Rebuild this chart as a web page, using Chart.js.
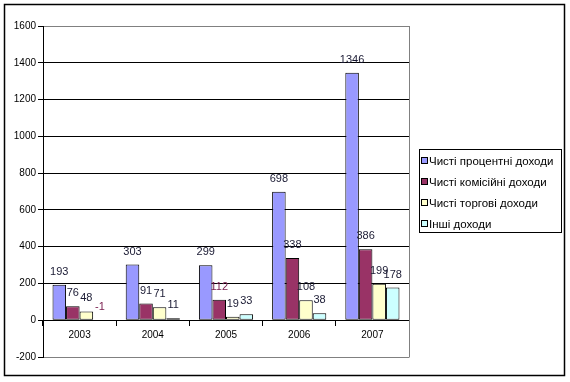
<!DOCTYPE html>
<html>
<head>
<meta charset="utf-8">
<script src="https://cdn.jsdelivr.net/npm/chart.js@4"></script>
<style>
html,body{margin:0;padding:0;background:#fff;}
#wrap{width:570px;height:382px;position:relative;}
</style>
</head>
<body>
<div id="wrap"><canvas id="c" width="570" height="382"></canvas></div>
<script>
const categories = ['2003', '2004', '2005', '2006', '2007'];
const seriesNames = ['Чисті процентні доходи', 'Чисті комісійні доходи', 'Чисті торгові доходи', 'Інші доходи'];
const netInterest = [193, 303, 299, 698, 1346];
const netCommission = [76, 91, 112, 338, 386];
const netTrading = [48, 71, 19, 108, 199];
const otherIncome = [-1, 11, 33, 38, 178];
const yTicks = [-200, 0, 200, 400, 600, 800, 1000, 1200, 1400, 1600];
const colors = ['#9999FF', '#993366', '#FFFFCC', '#CCFFFF'];

const FONT = 'Liberation Sans, Arial, sans-serif';

const frame = {
  id: 'frame',
  beforeDraw(chart) {
    const ctx = chart.ctx;
    ctx.save();
    ctx.fillStyle = '#fff';
    ctx.fillRect(0, 0, chart.width, chart.height);
    ctx.restore();
  },
  afterDraw(chart) {
    const ctx = chart.ctx;
    const a = chart.chartArea;
    ctx.save();
    // plot area right border (grey)
    ctx.strokeStyle = '#808080';
    ctx.lineWidth = 1;
    ctx.beginPath();
    ctx.moveTo(Math.round(a.right) + 0.5, a.top);
    ctx.lineTo(Math.round(a.right) + 0.5, a.bottom + 0.5);
    ctx.stroke();
    // outer border
    ctx.strokeStyle = '#000';
    ctx.lineWidth = 1.5;
    ctx.strokeRect(4.5, 4.5, 560, 371);
    // legend
    ctx.lineWidth = 1;
    ctx.strokeRect(419.5, 149.5, 142, 83);
    ctx.font = '11.5px ' + FONT;
    ctx.textBaseline = 'middle';
    ctx.textAlign = 'left';
    chart.data.datasets.forEach((ds, i) => {
      const cy = 161 + i * 21;
      ctx.fillStyle = ds.backgroundColor;
      ctx.fillRect(421.5, cy - 3.5, 6, 6);
      ctx.strokeStyle = '#000';
      ctx.strokeRect(421.5, cy - 3.5, 6, 6);
      ctx.fillStyle = '#000';
      ctx.fillText(ds.label, 429, cy + 0.5);
    });
    // data labels
    ctx.font = '11px ' + FONT;
    ctx.textAlign = 'center';
    ctx.textBaseline = 'middle';
    chart.data.datasets.forEach((ds, i) => {
      const meta = chart.getDatasetMeta(i);
      meta.data.forEach((bar, j) => {
        const top = Math.min(bar.y, bar.base);
        ctx.fillStyle = (ds.data[j] < 0 || i === 1 && j === 2) ? '#7a2050' : '#1a1a33';
        ctx.fillText(String(ds.data[j]), bar.x, top - 13);
      });
    });
    ctx.restore();
  }
};

const datasets = [netInterest, netCommission, netTrading, otherIncome].map((d, i) => ({
  label: seriesNames[i],
  data: d,
  backgroundColor: colors[i],
  borderColor: '#000',
  borderWidth: 1,
  borderSkipped: false,
  categoryPercentage: 0.74,
  barPercentage: 1.0
}));

new Chart(document.getElementById('c'), {
  type: 'bar',
  data: { labels: categories, datasets },
  options: {
    responsive: false,
    animation: false,
    devicePixelRatio: 1,
    layout: { padding: { left: 0, top: 26, right: 161, bottom: 25 } },
    plugins: { legend: { display: false }, tooltip: { enabled: false } },
    scales: {
      x: {
        position: { y: 0 },
        afterFit(s) { s.height = 0; },
        grid: {
          offset: true,
          drawOnChartArea: false,
          drawTicks: true,
          tickLength: 5,
          tickColor: '#000',
          color: '#000'
        },
        border: { display: true, color: '#000', width: 1 },
        ticks: { color: '#000', font: { family: FONT, size: 10 }, padding: 4, maxRotation: 0 }
      },
      y: {
        min: -200,
        max: 1600,
        afterFit(s) { s.width = 43; },
        afterBuildTicks(s) { s.ticks = yTicks.map(v => ({ value: v })); },
        grid: {
          color: ctx => (ctx.tick && (ctx.tick.value === -200 || ctx.tick.value === 1600)) ? '#808080' : '#000',
          tickColor: '#000',
          tickLength: 5,
          lineWidth: 1
        },
        border: { display: true, color: '#000', width: 1 },
        ticks: {
          color: '#000',
          font: { family: FONT, size: 10 },
          padding: 2,
          callback: v => String(v)
        }
      }
    }
  },
  plugins: [frame]
});
</script>
</body>
</html>
